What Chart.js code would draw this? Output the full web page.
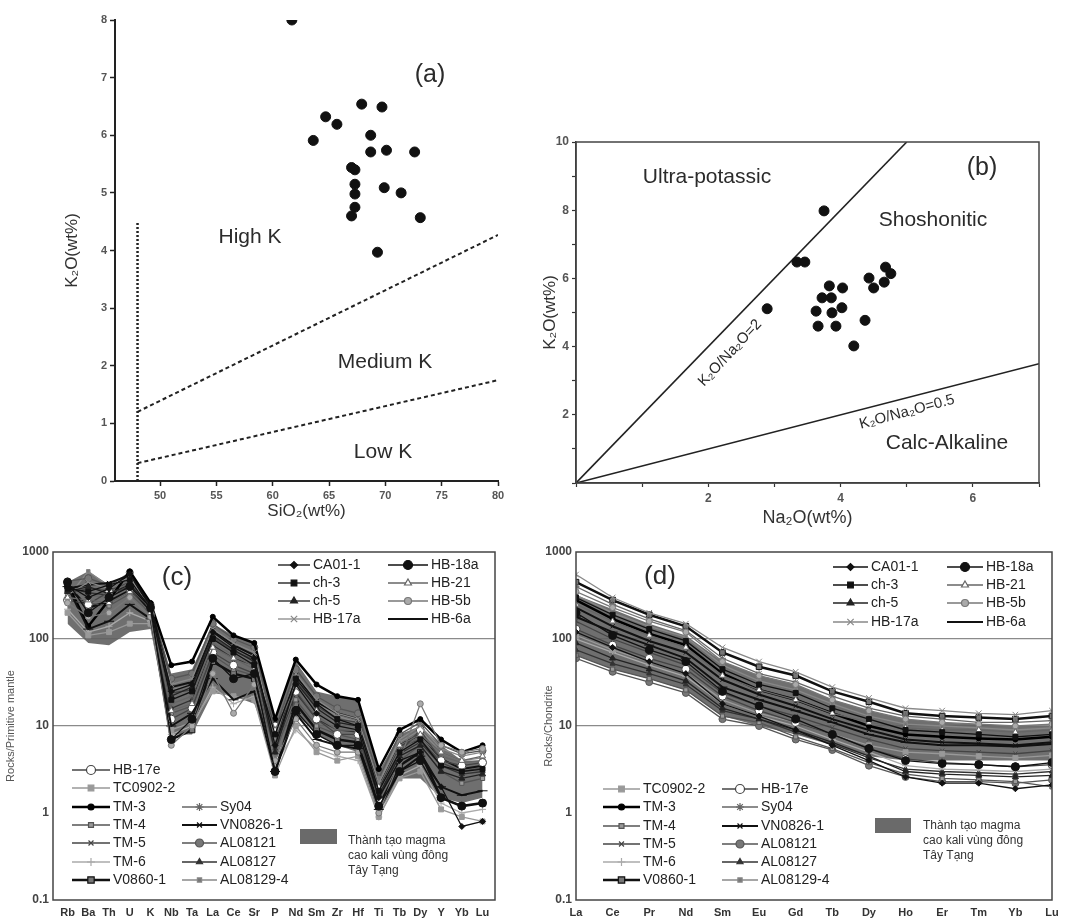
<!DOCTYPE html>
<html>
<head>
<meta charset="utf-8">
<script src="https://cdn.jsdelivr.net/npm/chart.js@4.4.1/dist/chart.umd.min.js"></script>
<style>
body { margin: 0; background: #fff; width: 1083px; height: 924px; position: relative; overflow: hidden; }
canvas { position: absolute; }
#chartA { left: 0; top: 0; }
#chartB { left: 540px; top: 0; }
#chartC { left: 0; top: 530px; }
#chartD { left: 540px; top: 530px; }
</style>
</head>
<body>
<canvas id="chartA" width="540" height="524"></canvas>
<canvas id="chartB" width="543" height="530"></canvas>
<canvas id="chartC" width="540" height="394"></canvas>
<canvas id="chartD" width="543" height="394"></canvas>
<script>
// (a) SiO2 vs K2O
const aSiO2 = [61.7, 64.7, 65.7, 63.6, 67.9, 69.7, 68.7, 68.7, 70.1, 72.6, 67.0, 67.3, 67.3, 67.3, 67.3, 67.0, 69.9, 71.4, 73.1, 69.3];
const aK2O  = [8.0, 6.32, 6.19, 5.91, 6.54, 6.49, 6.0, 5.71, 5.74, 5.71, 5.44, 5.40, 5.15, 4.98, 4.75, 4.60, 5.09, 5.0, 4.57, 3.97];
const aLimitX = [48, 48], aLimitY = [0, 4.5];
const aHighKX = [48, 80], aHighKY = [1.2, 4.27];
const aLowKX = [48, 80], aLowKY = [0.31, 1.75];

// (b) Na2O vs K2O
const bNa2O = [3.75, 3.34, 3.46, 2.89, 3.83, 4.03, 3.72, 3.86, 3.63, 3.87, 4.02, 3.66, 3.93, 4.37, 4.20, 4.43, 4.50, 4.68, 4.76, 4.66];
const bK2O  = [7.98, 6.48, 6.48, 5.11, 5.78, 5.72, 5.43, 5.43, 5.04, 4.99, 5.14, 4.60, 4.60, 4.77, 4.02, 6.01, 5.72, 6.33, 6.14, 5.89];
const bRatio2X = [0, 5], bRatio2Y = [0, 10];
const bRatio05X = [0, 7], bRatio05Y = [0, 3.5];

// (c) primitive mantle normalised
const pmElems = ['Rb','Ba','Th','U','K','Nb','Ta','La','Ce','Sr','P','Nd','Sm','Zr','Hf','Ti','Tb','Dy','Y','Yb','Lu'];
const samples = ['CA01-1','HB-18a','ch-3','HB-21','ch-5','HB-5b','HB-17a','HB-6a','HB-17e','TC0902-2','TM-3','Sy04','TM-4','VN0826-1','TM-5','AL08121','TM-6','AL08127','V0860-1','AL08129-4'];
const pmCA01_1   = [420, 300, 380, 560, 250, 25, 30, 120, 80, 60, 6, 30, 14, 10, 9, 1.5, 4, 5, 2, 0.7, 0.8];
const pmHB_18a   = [450, 200, 300, 400, 230, 7, 12, 60, 35, 40, 3, 15, 8, 6, 6, 1.2, 3, 4, 1.5, 1.2, 1.3];
const pmCh_3     = [380, 350, 420, 480, 220, 20, 25, 100, 70, 50, 8, 35, 18, 12, 10, 1.8, 5, 7, 3.5, 3, 3.2];
const pmHB_21    = [300, 280, 260, 350, 200, 15, 18, 80, 60, 45, 9, 28, 15, 10, 9, 2, 6, 8, 5, 4, 4.5];
const pmCh_5     = [350, 400, 330, 420, 240, 22, 28, 110, 75, 55, 5, 32, 16, 11, 10, 1.6, 4.5, 6, 3, 2.5, 2.8];
const pmHB_5b    = [260, 180, 200, 300, 180, 6, 10, 40, 14, 30, 4, 12, 6, 5, 5, 1.0, 4, 18, 6, 5, 5.5];
const pmHB_17a   = [320, 450, 380, 520, 210, 30, 35, 130, 90, 70, 7, 40, 20, 14, 12, 2.2, 7, 10, 5.5, 4.5, 5];
const pmHB_6a    = [400, 130, 160, 250, 170, 10, 14, 35, 20, 25, 3, 14, 7, 6, 5.5, 1.1, 3, 4.5, 2, 1.6, 1.8];
const pmHB_17e   = [280, 250, 350, 380, 190, 12, 16, 70, 50, 40, 10, 25, 12, 8, 8, 1.4, 5, 9, 4, 3.5, 3.8];
const pmTC0902_2 = [200, 110, 120, 150, 150, 9, 11, 25, 22, 20, 2.7, 10, 5, 4, 4.5, 0.9, 2.5, 3, 1.1, 0.9, 0.8];
const pmTM_3     = [430, 140, 280, 600, 260, 50, 55, 180, 110, 90, 12, 58, 30, 22, 20, 3.2, 9, 12, 7, 5, 6];
const pmSy04     = [350, 320, 300, 460, 230, 18, 22, 90, 65, 48, 6, 26, 13, 9, 9, 1.7, 5.5, 7.5, 4.5, 3.8, 4];
const pmTM_4     = [300, 260, 240, 330, 200, 14, 17, 65, 45, 38, 5, 20, 10, 8, 7, 1.5, 4, 6, 3, 2.2, 2.5];
const pmVN0826_1 = [380, 420, 440, 540, 240, 28, 32, 125, 85, 65, 7, 38, 19, 14, 12, 2, 6, 8, 4.2, 3.2, 3.5];
const pmTM_5     = [340, 380, 360, 450, 220, 24, 26, 105, 72, 58, 6.5, 33, 17, 12, 11, 1.9, 5.8, 7, 3.8, 3, 3.3];
const pmAL08121  = [460, 500, 410, 580, 250, 35, 40, 150, 100, 80, 9, 45, 22, 16, 14, 2.5, 8, 11, 6, 4.8, 5.2];
const pmTM_6     = [220, 120, 140, 200, 160, 8, 10, 28, 18, 22, 3.5, 9, 5.5, 4.5, 4, 0.9, 2.7, 3.5, 1.3, 1.0, 1.1];
const pmAL08127  = [390, 340, 320, 400, 230, 16, 20, 85, 60, 50, 5.5, 24, 12, 9, 8.5, 1.6, 4.8, 6.5, 3.5, 2.8, 3];
const pmV0860_1  = [410, 230, 270, 360, 210, 7, 9, 55, 40, 35, 3, 18, 9, 7, 6.5, 1.2, 3.5, 5, 1.5, 1.2, 1.3];
const pmAL08129_4 = [300, 600, 400, 500, 230, 26, 30, 115, 80, 62, 8, 36, 18, 13, 11, 2.1, 6.5, 9, 5, 4, 4.3];
const pmBandHigh = [450, 600, 420, 520, 260, 40, 45, 150, 110, 90, 12, 55, 25, 22, 20, 3, 8, 10, 6, 4, 4];
const pmBandLow  = [150, 90, 85, 120, 130, 8, 8, 24, 22, 18, 4, 14, 8, 6, 5, 1, 2.5, 2.5, 1.5, 1.3, 1.5];

// (d) chondrite normalised REE
const reeElems = ['La','Ce','Pr','Nd','Sm','Eu','Gd','Tb','Dy','Ho','Er','Tm','Yb','Lu'];
const chCA01_1   = [120, 80, 55, 40, 18, 13, 9, 6, 4, 2.6, 2.2, 2.2, 1.9, 2.1];
const chHB_18a   = [200, 110, 75, 55, 25, 17, 12, 8, 5.5, 4, 3.7, 3.6, 3.4, 3.8];
const chCh_3     = [300, 190, 130, 95, 45, 30, 24, 16, 12, 9, 8.5, 8, 7.5, 8];
const chHB_21    = [250, 160, 110, 80, 38, 26, 20, 14, 11, 9.5, 9, 9, 8.5, 9];
const chCh_5     = [90, 60, 45, 33, 16, 12, 9, 6.5, 4.5, 3, 2.8, 2.7, 2.6, 2.7];
const chHB_5b    = [350, 230, 160, 120, 55, 38, 30, 20, 15, 12, 11, 10.5, 10, 10.5];
const chHB_17a   = [550, 300, 200, 150, 80, 55, 42, 28, 21, 16, 15, 14, 13.5, 15];
const chHB_6a    = [180, 120, 85, 60, 28, 20, 15, 11, 8, 6.5, 6, 6, 5.8, 6.2];
const chHB_17e   = [130, 85, 60, 45, 22, 15, 11, 8, 5.5, 4.2, 3.8, 3.6, 3.4, 3.6];
const chTC0902_2 = [110, 75, 55, 40, 20, 14, 11, 8, 6, 5, 4.8, 4.5, 4.3, 4.6];
const chTM_3     = [280, 170, 115, 85, 40, 26, 20, 14, 10, 8, 7.5, 7.2, 7, 7.5];
const chSy04     = [400, 250, 170, 125, 60, 40, 32, 22, 16, 13, 12, 11, 11, 11.5];
const chTM_4     = [65, 45, 35, 26, 13, 11, 7.5, 5.5, 3.8, 2.8, 2.5, 2.4, 2.3, 2.0];
const chVN0826_1 = [230, 140, 95, 70, 34, 23, 17, 12, 9, 7, 6.5, 6.3, 6, 6.5];
const chTM_5     = [160, 100, 70, 50, 24, 17, 13, 9.5, 7, 5.5, 5.2, 5, 4.8, 5.2];
const chAL08121  = [60, 42, 32, 24, 12, 10, 7, 5.3, 3.5, 2.6, 2.3, 2.3, 2.2, 2.4];
const chTM_6     = [100, 70, 50, 37, 18, 13, 10, 7, 5, 3.5, 3.2, 3.1, 3, 3.2];
const chAL08127  = [75, 52, 40, 30, 15, 12, 8.5, 6.2, 4.3, 3.2, 3, 2.9, 2.8, 3];
const chV0860_1  = [450, 280, 190, 140, 70, 48, 38, 25, 19, 14, 13, 12.5, 12, 13];
const chAL08129_4 = [320, 200, 140, 105, 50, 33, 26, 18, 13, 10.5, 10, 9.5, 9, 9.5];
const chBandHigh = [320, 220, 150, 110, 55, 38, 30, 20, 15, 12, 11, 10.5, 10, 10];
const chBandLow  = [65, 45, 35, 26, 13, 10, 8, 6, 4.5, 4, 4, 4, 4, 4];

const bandLabel = ['Thành tạo magma', 'cao kali vùng đông', 'Tây Tạng'];

const pmSeries = [pmCA01_1, pmHB_18a, pmCh_3, pmHB_21, pmCh_5, pmHB_5b, pmHB_17a, pmHB_6a, pmHB_17e, pmTC0902_2,
  pmTM_3, pmSy04, pmTM_4, pmVN0826_1, pmTM_5, pmAL08121, pmTM_6, pmAL08127, pmV0860_1, pmAL08129_4];
const chSeries = [chCA01_1, chHB_18a, chCh_3, chHB_21, chCh_5, chHB_5b, chHB_17a, chHB_6a, chHB_17e, chTC0902_2,
  chTM_3, chSy04, chTM_4, chVN0826_1, chTM_5, chAL08121, chTM_6, chAL08127, chV0860_1, chAL08129_4];

// marker look per sample
const looks = {
  'CA01-1':   { c: '#111', p: 'rectRot', r: 3 },
  'HB-18a':   { c: '#111', p: 'circle', r: 4 },
  'ch-3':     { c: '#111', p: 'rect', r: 3.5 },
  'HB-21':    { c: '#666', p: 'triangle', r: 3.5, f: '#fff' },
  'ch-5':     { c: '#222', p: 'triangle', r: 3.5 },
  'HB-5b':    { c: '#777', p: 'circle', r: 3, f: '#aaa' },
  'HB-17a':   { c: '#888', p: 'crossRot', r: 4 },
  'HB-6a':    { c: '#111', p: 'line', r: 5, w: 2 },
  'HB-17e':   { c: '#444', p: 'circle', r: 4, f: '#fff' },
  'TC0902-2': { c: '#999', p: 'rect', r: 3.5 },
  'TM-3':     { c: '#000', p: 'circle', r: 2.5, w: 2.5 },
  'Sy04':     { c: '#666', p: 'star', r: 3.5 },
  'TM-4':     { c: '#555', p: 'rect', r: 3, f: '#999' },
  'VN0826-1': { c: '#111', p: 'crossRot', r: 3, w: 2 },
  'TM-5':     { c: '#444', p: 'crossRot', r: 3 },
  'AL08121':  { c: '#555', p: 'circle', r: 3.5, f: '#777' },
  'TM-6':     { c: '#aaa', p: 'cross', r: 3.5 },
  'AL08127':  { c: '#333', p: 'triangle', r: 3 },
  'V0860-1':  { c: '#111', p: 'rect', r: 4, f: '#777', w: 2.5 },
  'AL08129-4': { c: '#888', p: 'rect', r: 2.5, f: '#777' }
};

Chart.defaults.font.family = "'Liberation Sans', Arial, sans-serif";
Chart.defaults.color = '#333';
Chart.defaults.animation = false;

function pairs(xs, ys) {
  return xs.map((x, i) => ({ x: x, y: ys[i] }));
}

// free text placed on the canvas
const notes = {
  id: 'notes',
  afterDraw(chart, args, opts) {
    const ctx = chart.ctx;
    (opts.items || []).forEach(t => {
      ctx.save();
      ctx.font = t.font;
      ctx.fillStyle = t.color || '#2b2b2b';
      ctx.textAlign = t.align || 'center';
      ctx.textBaseline = 'middle';
      ctx.translate(t.x, t.y);
      if (t.rot) ctx.rotate(t.rot * Math.PI / 180);
      ctx.fillText(t.text, 0, 0);
      ctx.restore();
    });
  }
};

const frame = {
  id: 'frame',
  afterDatasetsDraw(chart) {
    const a = chart.chartArea, ctx = chart.ctx;
    ctx.save();
    ctx.strokeStyle = '#444';
    ctx.lineWidth = 1.5;
    ctx.strokeRect(a.left, a.top, a.right - a.left, a.bottom - a.top);
    ctx.restore();
  }
};

// hand placed legend blocks for the spider plots
const keyBox = {
  id: 'keyBox',
  afterDraw(chart, args, opts) {
    const ctx = chart.ctx;
    opts.entries.forEach(e => {
      const ds = chart.data.datasets.find(d => d.label === e.name);
      ctx.save();
      ctx.strokeStyle = ds.borderColor;
      ctx.lineWidth = ds.borderWidth;
      ctx.beginPath();
      ctx.moveTo(e.x0, e.y);
      ctx.lineTo(e.x1, e.y);
      ctx.stroke();
      ctx.fillStyle = ds.pointBackgroundColor;
      ctx.strokeStyle = ds.pointBorderColor;
      ctx.lineWidth = 1.2;
      Chart.helpers.drawPoint(ctx, { pointStyle: ds.pointStyle, radius: ds.pointRadius + 0.5, rotation: 0, borderWidth: 1.2 }, (e.x0 + e.x1) / 2, e.y);
      ctx.fillStyle = '#222';
      ctx.font = "14px 'Liberation Sans', Arial, sans-serif";
      ctx.textAlign = 'left';
      ctx.textBaseline = 'middle';
      ctx.fillText(ds.label, e.x1 + 3, e.y);
      ctx.restore();
    });
    const s = opts.swatch;
    ctx.save();
    ctx.fillStyle = '#6a6a6a';
    ctx.fillRect(s.x, s.y, s.w, s.h);
    ctx.fillStyle = '#333';
    ctx.font = "12px 'Liberation Sans', Arial, sans-serif";
    ctx.textAlign = 'left';
    ctx.textBaseline = 'middle';
    bandLabel.forEach((line, i) => ctx.fillText(line, s.tx, s.ty + i * 15));
    ctx.restore();
  }
};

function axisLook(extra) {
  return Object.assign({
    border: { display: true, color: '#222', width: 2 },
    grid: { display: true, drawOnChartArea: false, drawTicks: true, tickLength: 5, tickColor: '#222', tickWidth: 1.5 },
    ticks: { color: '#555', font: { size: 11, weight: 'bold' }, padding: 3 }
  }, extra);
}

// ---------- (a) ----------
new Chart(document.getElementById('chartA'), {
  type: 'scatter',
  data: {
    datasets: [
      { data: pairs(aSiO2, aK2O), pointRadius: 5, pointBackgroundColor: '#111', pointBorderColor: '#111', showLine: false },
      { data: pairs(aLimitX, aLimitY), showLine: true, borderColor: '#222', borderWidth: 2.5, borderDash: [2, 2], pointRadius: 0 },
      { data: pairs(aHighKX, aHighKY), showLine: true, borderColor: '#222', borderWidth: 2, borderDash: [4, 3], pointRadius: 0 },
      { data: pairs(aLowKX, aLowKY), showLine: true, borderColor: '#222', borderWidth: 2, borderDash: [4, 3], pointRadius: 0 }
    ]
  },
  options: {
    responsive: false,
    layout: { padding: { left: 62, top: 20, right: 42, bottom: 0 } },
    plugins: {
      legend: { display: false },
      tooltip: { enabled: false },
      notes: {
        items: [
          { text: '(a)', x: 430, y: 75, font: "25px 'Liberation Sans', Arial, sans-serif" },
          { text: 'High K', x: 250, y: 237, font: "21px 'Liberation Sans', Arial, sans-serif" },
          { text: 'Medium K', x: 385, y: 362, font: "21px 'Liberation Sans', Arial, sans-serif" },
          { text: 'Low K', x: 383, y: 452, font: "21px 'Liberation Sans', Arial, sans-serif" }
        ]
      }
    },
    scales: {
      x: axisLook({
        type: 'linear', min: 46, max: 80,
        afterBuildTicks: s => { s.ticks = [50, 55, 60, 65, 70, 75, 80].map(v => ({ value: v })); },
        afterFit: s => { s.height = 43; },
        title: { display: true, text: 'SiO₂(wt%)', color: '#333', font: { size: 17 }, padding: { top: 0, bottom: 2 } }
      }),
      y: axisLook({
        type: 'linear', min: 0, max: 8,
        ticks: { stepSize: 1, color: '#555', font: { size: 11, weight: 'bold' }, padding: 3 },
        afterFit: s => { s.width = 53; },
        title: { display: true, text: 'K₂O(wt%)', color: '#333', font: { size: 17 }, padding: { top: 0, bottom: 4 } }
      })
    }
  },
  plugins: [notes]
});

// ---------- (b) ----------
new Chart(document.getElementById('chartB'), {
  type: 'scatter',
  data: {
    datasets: [
      { data: pairs(bNa2O, bK2O), pointRadius: 5, pointBackgroundColor: '#111', pointBorderColor: '#111', showLine: false },
      { data: pairs(bRatio2X, bRatio2Y), showLine: true, borderColor: '#222', borderWidth: 1.6, pointRadius: 0 },
      { data: pairs(bRatio05X, bRatio05Y), showLine: true, borderColor: '#222', borderWidth: 1.6, pointRadius: 0 }
    ]
  },
  options: {
    responsive: false,
    layout: { padding: { left: 0, top: 142, right: 44, bottom: 0 } },
    plugins: {
      legend: { display: false },
      tooltip: { enabled: false },
      notes: {
        items: [
          { text: 'Ultra-potassic', x: 167, y: 177, font: "21px 'Liberation Sans', Arial, sans-serif" },
          { text: '(b)', x: 442, y: 168, font: "25px 'Liberation Sans', Arial, sans-serif" },
          { text: 'Shoshonitic', x: 393, y: 220, font: "21px 'Liberation Sans', Arial, sans-serif" },
          { text: 'Calc-Alkaline', x: 407, y: 443, font: "21px 'Liberation Sans', Arial, sans-serif" },
          { text: 'K₂O/Na₂O=0.5', x: 367, y: 412, rot: -15, font: "15px 'Liberation Sans', Arial, sans-serif" },
          { text: 'K₂O/Na₂O=2', x: 190, y: 353, rot: -47, font: "15px 'Liberation Sans', Arial, sans-serif" }
        ]
      }
    },
    scales: {
      x: axisLook({
        type: 'linear', min: 0, max: 7,
        border: { display: true, color: '#333', width: 1.5 },
        grid: { display: true, drawOnChartArea: false, drawTicks: true, tickLength: 4, tickColor: '#333', tickWidth: 1.2 },
        ticks: { stepSize: 1, color: '#555', font: { size: 12, weight: 'bold' }, padding: 4,
          callback: v => (v === 2 || v === 4 || v === 6) ? String(v) : '' },
        afterFit: s => { s.height = 47; },
        title: { display: true, text: 'Na₂O(wt%)', color: '#333', font: { size: 18 }, padding: { top: 0, bottom: 1 } }
      }),
      y: axisLook({
        type: 'linear', min: 0, max: 10,
        border: { display: true, color: '#333', width: 1.5 },
        grid: { display: true, drawOnChartArea: false, drawTicks: true, tickLength: 4, tickColor: '#333', tickWidth: 1.2 },
        ticks: { stepSize: 1, color: '#555', font: { size: 12, weight: 'bold' }, padding: 3,
          callback: v => (v > 0 && v % 2 === 0) ? String(v) : '' },
        afterFit: s => { s.width = 36; },
        title: { display: true, text: 'K₂O(wt%)', color: '#333', font: { size: 17 }, padding: { top: 0, bottom: 2 } }
      })
    }
  },
  plugins: [notes, frame]
});

// ---------- spider plots (c) and (d) ----------
function spiderChart(canvasId, elems, series, bandHigh, bandLow, cfg) {
  const datasets = samples.map((name, k) => {
    const st = looks[name];
    return {
      label: name,
      data: series[k].map((v, i) => ({ x: i, y: v })),
      showLine: true,
      borderColor: st.c,
      borderWidth: st.w || 1.3,
      pointStyle: st.p,
      pointRadius: st.r,
      pointBackgroundColor: st.f || st.c,
      pointBorderColor: st.c,
      pointBorderWidth: 1,
      fill: false
    };
  });
  datasets.push({ label: 'band-high', data: bandHigh.map((v, i) => ({ x: i, y: v })), showLine: true, borderWidth: 0, pointRadius: 0, fill: false });
  datasets.push({ label: 'band-low', data: bandLow.map((v, i) => ({ x: i, y: v })), showLine: true, borderWidth: 0, pointRadius: 0, fill: '-1', backgroundColor: 'rgba(95,95,95,0.9)' });

  return new Chart(document.getElementById(canvasId), {
    type: 'scatter',
    data: { datasets: datasets },
    options: {
      responsive: false,
      layout: { padding: cfg.pad },
      plugins: {
        legend: { display: false },
        tooltip: { enabled: false },
        notes: { items: [{ text: cfg.tag, x: cfg.tagX, y: cfg.tagY, font: "26px 'Liberation Sans', Arial, sans-serif" }] },
        keyBox: { entries: cfg.entries, swatch: cfg.swatch }
      },
      scales: {
        x: {
          type: 'linear', min: cfg.xmin, max: cfg.xmax,
          afterBuildTicks: s => { s.ticks = elems.map((e, i) => ({ value: i })); },
          afterFit: s => { s.height = 24; },
          border: { display: false },
          grid: { display: false, drawTicks: false },
          ticks: { autoSkip: false, maxRotation: 0, padding: 6, color: '#333', font: { size: 11, weight: 'bold' },
            callback: v => elems[v] || '' }
        },
        y: {
          type: 'logarithmic', min: 0.1, max: 1000,
          afterBuildTicks: s => { s.ticks = [0.1, 1, 10, 100, 1000].map(v => ({ value: v })); },
          afterFit: s => { s.width = cfg.yWidth; },
          border: { display: false },
          grid: {
            drawTicks: false,
            lineWidth: 1.2,
            color: c => (c.tick && (c.tick.value === 10 || c.tick.value === 100)) ? '#8a8a8a' : 'rgba(0,0,0,0)'
          },
          ticks: { padding: 4, color: '#444', font: { size: 12, weight: 'bold' },
            callback: v => (v < 1 ? '0.1' : String(v)) },
          title: { display: true, text: cfg.yTitle, color: '#555', font: { size: 11 }, padding: { top: 0, bottom: 1 } }
        }
      }
    },
    plugins: [notes, frame, keyBox]
  });
}

function column(names, x0, x1, ys) {
  return names.map((n, i) => ({ name: n, x0: x0, x1: x1, y: ys[i] }));
}

spiderChart('chartC', pmElems, pmSeries, pmBandHigh, pmBandLow, {
  pad: { left: 4, top: 22, right: 45, bottom: 0 },
  yWidth: 49, xmin: -0.7, xmax: 20.6,
  yTitle: 'Rocks/Primitive mantle',
  tag: '(c)', tagX: 177, tagY: 48,
  entries: [].concat(
    column(['CA01-1', 'ch-3', 'ch-5', 'HB-17a'], 278, 310, [35, 53, 71, 89]),
    column(['HB-18a', 'HB-21', 'HB-5b', 'HB-6a'], 388, 428, [35, 53, 71, 89]),
    column(['HB-17e', 'TC0902-2', 'TM-3', 'TM-4', 'TM-5', 'TM-6', 'V0860-1'], 72, 110, [240, 258, 277, 295, 313, 332, 350]),
    column(['Sy04', 'VN0826-1', 'AL08121', 'AL08127', 'AL08129-4'], 182, 217, [277, 295, 313, 332, 350])
  ),
  swatch: { x: 300, y: 299, w: 37, h: 15, tx: 348, ty: 311 }
});

spiderChart('chartD', reeElems, chSeries, chBandHigh, chBandLow, {
  pad: { left: 2, top: 22, right: 31, bottom: 0 },
  yWidth: 34, xmin: 0, xmax: 13,
  yTitle: 'Rocks/Chondrite',
  tag: '(d)', tagX: 120, tagY: 47,
  entries: [].concat(
    column(['CA01-1', 'ch-3', 'ch-5', 'HB-17a'], 293, 328, [37, 55, 73, 92]),
    column(['HB-18a', 'HB-21', 'HB-5b', 'HB-6a'], 407, 443, [37, 55, 73, 92]),
    column(['TC0902-2', 'TM-3', 'TM-4', 'TM-5', 'TM-6', 'V0860-1'], 63, 100, [259, 277, 296, 314, 332, 350]),
    column(['HB-17e', 'Sy04', 'VN0826-1', 'AL08121', 'AL08127', 'AL08129-4'], 182, 218, [259, 277, 296, 314, 332, 350])
  ),
  swatch: { x: 335, y: 288, w: 36, h: 15, tx: 383, ty: 296 }
});
</script>
</body>
</html>
